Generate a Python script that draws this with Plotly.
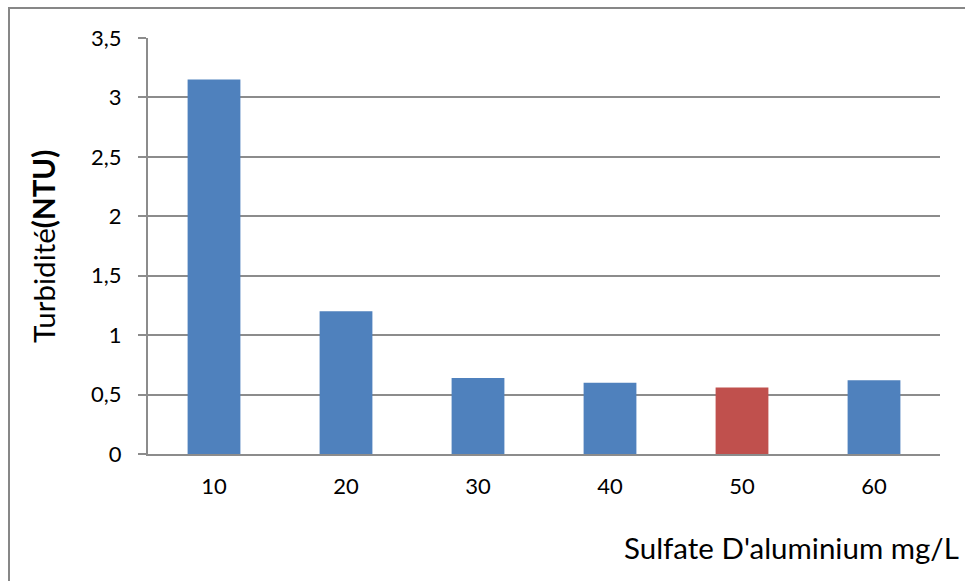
import plotly.graph_objects as go

# Aluminium sulfate dose (mg/L) and measured turbidity (NTU)
doses = ["10", "20", "30", "40", "50", "60"]
turbidity = [3.15, 1.2, 0.64, 0.6, 0.56, 0.62]
bar_colors = ["#4F81BD", "#4F81BD", "#4F81BD", "#4F81BD", "#C0504D", "#4F81BD"]

y_ticks = [0, 0.5, 1, 1.5, 2, 2.5, 3, 3.5]
y_tick_text = ["0", "0,5", "1", "1,5", "2", "2,5", "3", "3,5"]

FONT = "Lato, 'Open Sans', sans-serif"
GRID = "#8C8C8C"

# plot area in pixels
W, H = 965, 581
L, R, T, B = 148, 940, 38, 454

fig = go.Figure(
    go.Bar(
        x=doses,
        y=turbidity,
        marker=dict(color=bar_colors, line=dict(width=0)),
        width=0.4,
    )
)


def px_x(p):
    return (p - L) / (R - L)


def px_y(p):
    return (B - p) / (B - T)


fig.update_layout(
    width=W,
    height=H,
    margin=dict(l=L, r=W - R, t=T, b=H - B, pad=0),
    paper_bgcolor="white",
    plot_bgcolor="white",
    showlegend=False,
    font=dict(family=FONT, size=22, color="#000000"),
    xaxis=dict(
        type="category",
        showgrid=False,
        showline=True,
        linecolor=GRID,
        linewidth=2,
        ticks="",
        tickfont=dict(size=22),
        ticklabelstandoff=12,
    ),
    yaxis=dict(
        range=[0, 3.5],
        tickvals=y_ticks,
        ticktext=y_tick_text,
        showgrid=True,
        gridcolor=GRID,
        gridwidth=1.5,
        showline=True,
        linecolor=GRID,
        linewidth=2,
        ticks="outside",
        ticklen=8,
        tickwidth=1.5,
        tickcolor=GRID,
        tickfont=dict(size=22),
        ticklabelstandoff=12,
        zeroline=False,
    ),
    shapes=[
        dict(
            type="rect",
            xref="paper",
            yref="paper",
            x0=px_x(9),
            x1=px_x(975),
            y0=px_y(595),
            y1=px_y(8),
            line=dict(color="#878787", width=2),
            fillcolor="rgba(0,0,0,0)",
            layer="below",
        )
    ],
    annotations=[
        dict(
            text="Sulfate D'aluminium mg/L",
            xref="paper",
            yref="paper",
            x=px_x(961),
            y=px_y(547),
            xanchor="right",
            yanchor="middle",
            showarrow=False,
            font=dict(size=29.5),
        ),
        dict(
            text="Turbidité<b>(NTU)</b>",
            xref="paper",
            yref="paper",
            x=px_x(43),
            y=px_y(247),
            xanchor="center",
            yanchor="middle",
            textangle=-90,
            showarrow=False,
            font=dict(size=29.5),
        ),
    ],
)

fig.write_html("out.html")
